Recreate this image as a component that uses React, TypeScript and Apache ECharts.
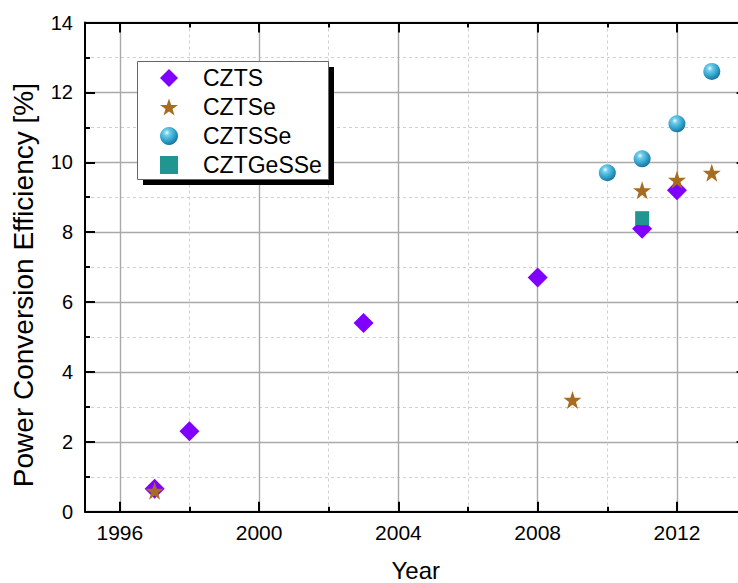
import React, { useEffect, useRef } from "react";
import * as echarts from "echarts";

// ---- data ----
const cztsYears = [1997, 1998, 2003, 2008, 2011, 2012];
const cztsPCE = [0.66, 2.3, 5.4, 6.7, 8.1, 9.2];
const cztseYears = [1997, 2009, 2011, 2012, 2013];
const cztsePCE = [0.6, 3.2, 9.2, 9.5, 9.7];
const cztsseYears = [2010, 2011, 2012, 2013];
const cztssePCE = [9.7, 10.1, 11.1, 12.6];
const cztgesseYears = [2011];
const cztgessePCE = [8.4];

const seriesNames = ["CZTS", "CZTSe", "CZTSSe", "CZTGeSSe"];
const majorYears = [1996, 2000, 2004, 2008, 2012];
const minorYears = [1998, 2002, 2006, 2010];

const X_MIN = 1995;
const X_MAX = 2014;
const Y_MIN = 0;
const Y_MAX = 14;
const Y_STEP = 2;

const zip = (xs: number[], ys: number[]) => xs.map((x, i) => [x, ys[i]]);

const FONT = "'Liberation Sans', Arial, sans-serif";
const STAR =
  "path://M50,0 L61.8,35.1 L98.1,35.1 L68.8,56.7 L79.4,91 L50,70 L20.6,91 L31.2,56.7 L1.9,35.1 L38.2,35.1 Z";

const sphere = {
  type: "radial",
  x: 0.38,
  y: 0.32,
  r: 0.72,
  colorStops: [
    { offset: 0, color: "#eefcff" },
    { offset: 0.22, color: "#6fcdea" },
    { offset: 0.65, color: "#2c9fca" },
    { offset: 1, color: "#1b6d90" },
  ],
};

const majorGrid = { color: "#a9a9a9", width: 1.4, type: "solid" };
const minorGrid = { color: "#cfcfcf", width: 1, type: [3, 3] };
const axisLine = { show: true, lineStyle: { color: "#000", width: 2 } };
const tickLine = { color: "#000", width: 2 };

export default function App() {
  const ref = useRef<HTMLDivElement>(null);
  useEffect(() => {
    if (!ref.current) return;
    const chart = echarts.init(ref.current, null, { renderer: "svg" });
    const xBase = {
      type: "value",
      min: X_MIN,
      max: X_MAX,
      gridIndex: 0,
    };
    chart.setOption({
      animation: false,
      backgroundColor: "#fff",
      textStyle: { fontFamily: FONT },
      grid: {
        left: 85,
        top: 22.5,
        right: 13.4,
        bottom: 71.3,
        containLabel: false,
        outerBoundsMode: "none",
      },
      xAxis: [
        {
          ...xBase,
          position: "bottom",
          name: "Year",
          nameLocation: "middle",
          nameGap: 47,
          nameTextStyle: { fontSize: 24, lineHeight: 23, color: "#000", fontFamily: FONT },
          axisLine,
          axisTick: { show: true, inside: true, length: 10, customValues: majorYears, lineStyle: tickLine },
          axisLabel: {
            show: true,
            customValues: majorYears,
            margin: 10,
            fontSize: 21,
            color: "#000",
            fontFamily: FONT,
            formatter: (v: number) => String(v),
          },
          splitLine: { show: true, lineStyle: majorGrid },
        },
        {
          ...xBase,
          position: "bottom",
          axisLine: { show: false },
          axisTick: { show: true, inside: true, length: 5, customValues: minorYears, lineStyle: tickLine },
          axisLabel: { show: false },
          splitLine: { show: true, lineStyle: minorGrid },
        },
        {
          ...xBase,
          position: "top",
          axisLine,
          axisTick: { show: true, inside: true, length: 10, customValues: majorYears, lineStyle: tickLine },
          axisLabel: { show: false },
          splitLine: { show: false },
        },
        {
          ...xBase,
          position: "top",
          axisLine: { show: false },
          axisTick: { show: true, inside: true, length: 5, customValues: minorYears, lineStyle: tickLine },
          axisLabel: { show: false },
          splitLine: { show: false },
        },
      ],
      yAxis: [
        {
          type: "value",
          min: Y_MIN,
          max: Y_MAX,
          interval: Y_STEP,
          position: "left",
          name: "Power Conversion Efficiency [%]",
          nameLocation: "middle",
          nameGap: 48,
          nameTextStyle: { fontSize: 28, color: "#000", fontFamily: FONT, padding: [0, 36, 0, 0] },
          axisLine,
          axisTick: { show: true, inside: true, length: 10, lineStyle: tickLine },
          minorTick: { show: true, splitNumber: 2, length: 5, lineStyle: tickLine },
          axisLabel: { margin: 12, fontSize: 20, color: "#000", fontFamily: FONT },
          splitLine: { show: true, lineStyle: majorGrid },
          minorSplitLine: { show: true, lineStyle: minorGrid },
        },
        {
          type: "value",
          min: Y_MIN,
          max: Y_MAX,
          interval: Y_STEP,
          position: "right",
          axisLine,
          axisTick: { show: true, inside: true, length: 10, lineStyle: tickLine },
          minorTick: { show: true, splitNumber: 2, length: 5, lineStyle: tickLine },
          axisLabel: { show: false },
          splitLine: { show: false },
        },
      ],
      graphic: [
        { type: "rect", left: 143, top: 67, shape: { width: 191, height: 118 }, style: { fill: "#000" }, z: 1 },
        {
          type: "rect",
          left: 137,
          top: 61,
          shape: { width: 191, height: 118 },
          style: { fill: "#fff", stroke: "#666", lineWidth: 1 },
          z: 2,
        },
      ],
      legend: {
        orient: "vertical",
        left: 137,
        top: 61,
        padding: [5, 6, 2, 23],
        itemGap: 5,
        itemWidth: 18,
        itemHeight: 18,
        z: 10,
        data: seriesNames,
        textStyle: { fontSize: 23, lineHeight: 24, color: "#000", fontFamily: FONT, padding: [0, 0, 0, 20] },
      },
      series: [
        {
          name: seriesNames[0],
          type: "scatter",
          xAxisIndex: 0,
          yAxisIndex: 0,
          symbol: "diamond",
          symbolSize: 20,
          itemStyle: { color: "#7f00ff", opacity: 1 },
          data: zip(cztsYears, cztsPCE),
        },
        {
          name: seriesNames[1],
          type: "scatter",
          xAxisIndex: 0,
          yAxisIndex: 0,
          symbol: STAR,
          symbolSize: 18,
          itemStyle: { color: "#a86c1f", opacity: 1 },
          data: zip(cztseYears, cztsePCE),
        },
        {
          name: seriesNames[2],
          type: "scatter",
          xAxisIndex: 0,
          yAxisIndex: 0,
          symbol: "circle",
          symbolSize: 17,
          itemStyle: { color: sphere, opacity: 1 },
          data: zip(cztsseYears, cztssePCE),
        },
        {
          name: seriesNames[3],
          type: "scatter",
          xAxisIndex: 0,
          yAxisIndex: 0,
          symbol: "rect",
          symbolSize: 14,
          itemStyle: { color: "#21958f", opacity: 1 },
          data: zip(cztgesseYears, cztgessePCE),
        },
      ],
    });
    return () => chart.dispose();
  }, []);
  return (
    <div style={{ position: "absolute", left: 0, top: 0, width: 738, height: 583, overflow: "hidden", background: "#fff" }}>
      <div ref={ref} style={{ width: 760, height: 583 }} />
    </div>
  );
}
